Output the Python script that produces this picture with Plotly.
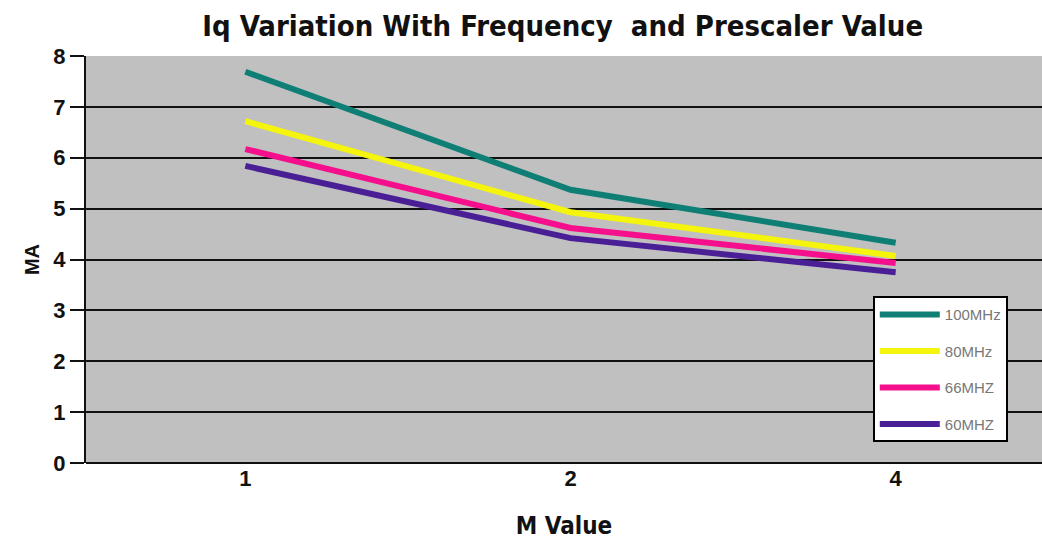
import plotly.graph_objects as go

m_values = ["1", "2", "4"]
series_names = ["100MHz", "80MHz", "66MHZ", "60MHZ"]
iq_100 = [7.69, 5.37, 4.33]
iq_80 = [6.72, 4.93, 4.07]
iq_66 = [6.17, 4.62, 3.93]
iq_60 = [5.84, 4.42, 3.75]
colors = ["#0f7f76", "#f4f40c", "#f50f8c", "#4a1f96"]

fig = go.Figure()
for name, vals, c in zip(series_names, [iq_100, iq_80, iq_66, iq_60], colors):
    fig.add_trace(go.Scatter(x=m_values, y=vals, name=name, mode="lines",
                             legendgroup=name,
                             line=dict(color=c, width=6)))

fig.update_layout(
    width=1042, height=540,
    margin=dict(l=86, r=0, t=56, b=77),
    paper_bgcolor="white", plot_bgcolor="#c0c0c0",
    title=dict(text="Iq Variation With Frequency  and Prescaler Value",
               x=0.54, xanchor="center", y=0.953, yanchor="middle",
               font=dict(family="DejaVu Sans Condensed, Liberation Sans Narrow, Liberation Sans",
                         size=29, weight="bold", color="#111111")),
    legend=dict(x=0.823, y=0.41, xanchor="left", yanchor="top",
                bgcolor="white", bordercolor="black", borderwidth=2,
                font=dict(family="Liberation Sans Narrow, Liberation Sans", size=15, color="#777777"),
                itemwidth=60, tracegroupgap=14),
    showlegend=True,
)
fig.update_xaxes(type="category", range=[-0.49, 2.45],
                 showgrid=False, showline=False, zeroline=False,
                 ticks="", tickfont=dict(family="Liberation Sans", size=22, weight="bold", color="#111111"),
                 title=dict(text="M Value", standoff=30,
                            font=dict(family="DejaVu Sans Condensed, Liberation Sans Narrow", size=24,
                                      weight="bold", color="#111111")))
fig.update_yaxes(range=[0, 8], dtick=1, showgrid=True, gridcolor="#111111", gridwidth=2,
                 showline=True, linecolor="#111111", linewidth=2, zeroline=True,
                 zerolinecolor="#111111", zerolinewidth=2,
                 ticks="outside", ticklen=14, tickwidth=2, tickcolor="#111111",
                 tickfont=dict(family="Liberation Sans", size=22, weight="bold", color="#111111"),
                 title=dict(text="MA", standoff=8,
                            font=dict(family="Liberation Sans", size=20, weight="bold", color="#111111")))

fig.write_html("out.html")
